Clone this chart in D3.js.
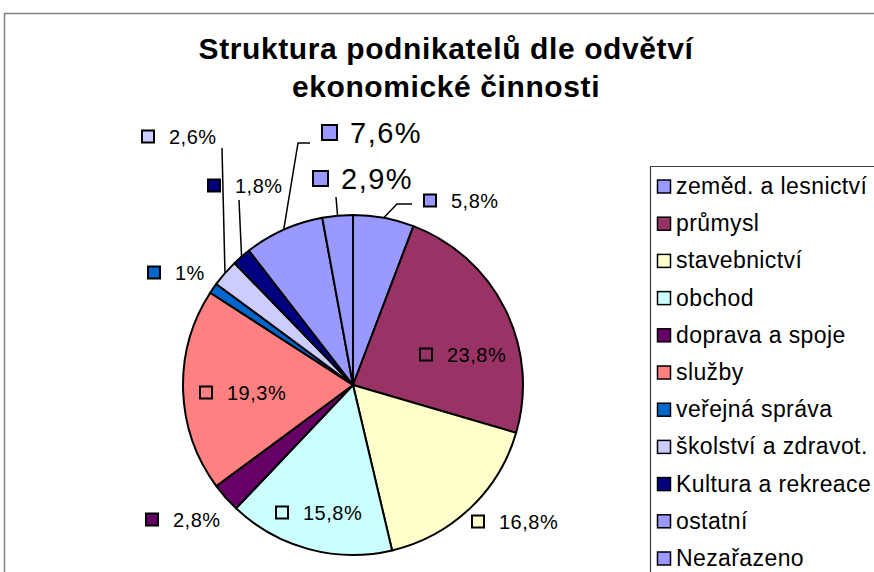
<!DOCTYPE html>
<html>
<head>
<meta charset="utf-8">
<script src="https://cdn.jsdelivr.net/npm/d3@7"></script>
<style>
  body { margin: 0; background: #fff; }
  svg { display: block; font-family: "Liberation Sans", Arial, sans-serif; }
</style>
</head>
<body>
<svg id="chart" width="874" height="572"></svg>
<script>
// data
const titleLines = ["Struktura podnikatelů dle odvětví", "ekonomické činnosti"];
const categories = [
  "zeměd. a lesnictví", "průmysl", "stavebnictví", "obchod", "doprava a spoje",
  "služby", "veřejná správa", "školství a zdravot.", "Kultura a rekreace",
  "ostatní", "Nezařazeno"
];
const shares = [5.8, 23.8, 16.8, 15.8, 2.8, 19.3, 1, 2.6, 1.8, 7.6, 2.9];
const colors = [
  "#9999FF", "#993366", "#FFFFCC", "#CCFFFF", "#660066",
  "#FF8080", "#0066CC", "#CCCCFF", "#000080", "#9999FF", "#9999FF"
];

// label placement relative to pie centre (as Excel left them)
const labelLayout = [
  { dx: 71,   dy: -184, big: false, leader: [[44, -181], [59, -181]] },
  { dx: 67,   dy: -30,  big: false },
  { dx: 119,  dy: 137,  big: false },
  { dx: -77,  dy: 128,  big: false },
  { dx: -207, dy: 135,  big: false },
  { dx: -153, dy: 8,    big: false },
  { dx: -205, dy: -112, big: false },
  { dx: -211, dy: -248, big: false, leader: [[-131, -237]] },
  { dx: -145, dy: -199, big: false, leader: [[-114, -185]] },
  { dx: -31,  dy: -252, big: true,  leader: [[-55, -242], [-43, -242]] },
  { dx: -40,  dy: -206, big: true,  leader: [[-17, -188]] }
];

const fmt = v => String(v).replace(".", ",") + "%";

const svg = d3.select("#chart");
const W = 874, H = 572;

// chart area frame
svg.append("path")
  .attr("d", `M4.5,${H} V13.5 H${W}`)
  .attr("fill", "none").attr("stroke", "#808080").attr("stroke-width", 1.5);

// title
svg.append("text")
  .attr("text-anchor", "middle")
  .attr("font-weight", "bold").attr("font-size", 30)
  .style("letter-spacing", "0.6px")
  .selectAll("tspan").data(titleLines).join("tspan")
  .attr("x", 446).attr("y", (d, i) => 59 + i * 38)
  .text(d => d);

// pie
const cx = 353, cy = 385, R = 170;
const pie = d3.pie().sort(null).value(d => d.value);
const arcs = pie(shares.map((v, i) => ({ value: v, i })));
const arc = d3.arc().innerRadius(0).outerRadius(R);
const rim = d3.arc().innerRadius(R).outerRadius(R);

const g = svg.append("g").attr("transform", `translate(${cx},${cy})`);
g.selectAll("path.slice").data(arcs).join("path")
  .attr("class", "slice")
  .attr("d", arc)
  .attr("fill", d => colors[d.data.i])
  .attr("stroke", "#000").attr("stroke-width", 2)
  .attr("stroke-linejoin", "round");

// leader lines
const line = d3.line();
g.selectAll("path.leader").data(arcs.filter(d => labelLayout[d.data.i].leader)).join("path")
  .attr("class", "leader")
  .attr("d", d => line([rim.centroid(d), ...labelLayout[d.data.i].leader]))
  .attr("fill", "none").attr("stroke", "#000").attr("stroke-width", 1.5);

// data labels: key square + value
const lab = g.selectAll("g.lab").data(arcs).join("g")
  .attr("class", "lab")
  .attr("transform", d => `translate(${labelLayout[d.data.i].dx},${labelLayout[d.data.i].dy})`);
lab.append("rect")
  .attr("x", 0)
  .attr("y", d => labelLayout[d.data.i].big ? -8 : -6.5)
  .attr("width", d => labelLayout[d.data.i].big ? 15 : 12)
  .attr("height", d => labelLayout[d.data.i].big ? 15 : 12)
  .attr("fill", d => colors[d.data.i])
  .attr("stroke", "#000").attr("stroke-width", 2);
lab.append("text")
  .attr("x", d => labelLayout[d.data.i].big ? 28 : 27)
  .attr("y", d => labelLayout[d.data.i].big ? 10 : 7)
  .attr("font-size", d => labelLayout[d.data.i].big ? 29 : 20)
  .style("letter-spacing", d => labelLayout[d.data.i].big ? "1.5px" : "0.5px")
  .text(d => fmt(d.data.value));

// legend
const lx = 650, ly = 166, rowH = 37.2;
svg.append("path")
  .attr("d", `M${lx + 0.5},${H} V${ly + 0.5} H${W}`)
  .attr("fill", "none").attr("stroke", "#404040").attr("stroke-width", 1.2);
const y = d3.scalePoint().domain(categories).range([194, 194 + rowH * 10]);
const leg = svg.selectAll("g.leg").data(categories).join("g")
  .attr("class", "leg")
  .attr("transform", d => `translate(${lx},${y(d)})`);
leg.append("rect")
  .attr("x", 7.5).attr("y", -14).attr("width", 13).attr("height", 13)
  .attr("fill", (d, i) => colors[i])
  .attr("stroke", "#000").attr("stroke-width", 1.5);
leg.append("text")
  .attr("x", 26).attr("y", 0)
  .attr("font-size", 23)
  .style("letter-spacing", "0.4px")
  .text(d => d);
</script>
</body>
</html>
